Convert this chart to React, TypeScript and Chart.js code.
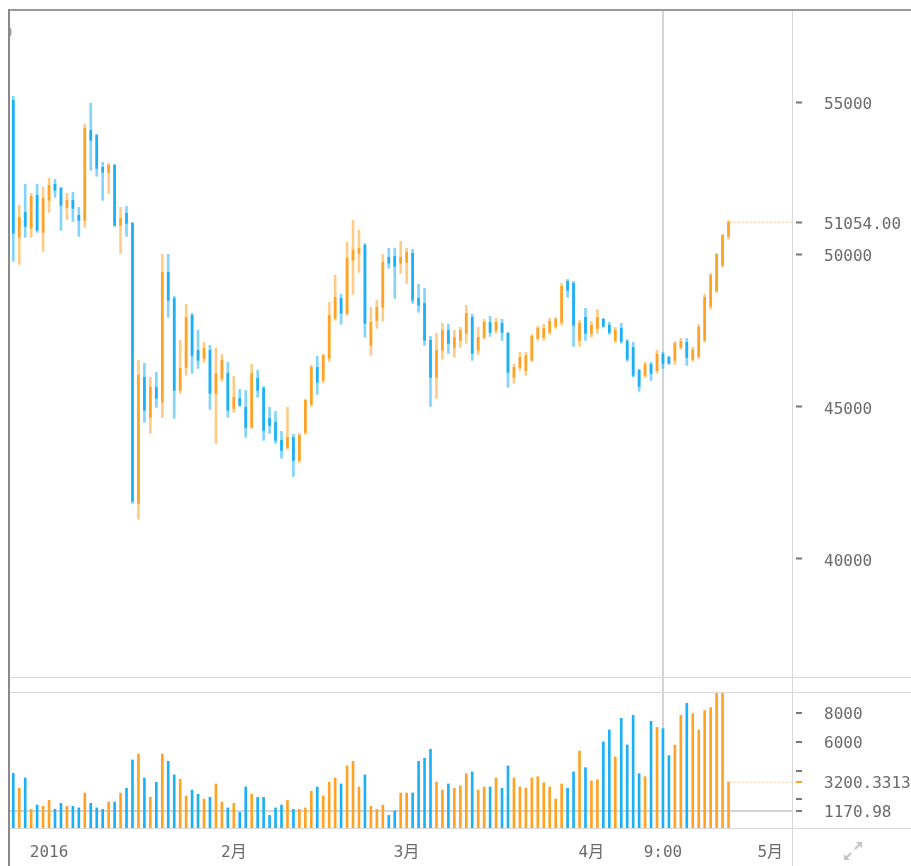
import React, { useEffect, useRef } from "react";
import { Chart, registerables } from "chart.js";

Chart.register(...registerables);

// ---- data (bar index 0 = 2015-12-26, one bar per day) ----
const opens = [
  55056, 50558, 51379, 50854, 51937, 50722, 51773, 52298, 52167, 51543,
  51773, 51280, 51116, 54071, 53907, 52856, 52692, 52922, 50952, 51346,
  51018, 41825, 45962, 44649, 45634, 45141, 49409, 48555, 45535, 46290,
  47997, 46848, 46586, 46848, 45437, 45929, 46093, 44944, 45272, 44977,
  44320, 45929, 45601, 44616, 44485, 43894, 43664, 43992, 43237, 44156,
  45076, 46290, 45863, 46586, 47899, 48555, 48063, 49803, 50033, 50295,
  47012, 47833, 48260, 49902, 49934, 49705, 49737, 50033, 48555, 48391,
  47177, 45962, 46848, 47505, 46947, 47177, 47406, 47932, 46848, 47275,
  47767, 47505, 47735, 47406, 45962, 46290, 46192, 46520, 47242, 47275,
  47439, 47636, 47767, 49114, 49048, 47177, 47932, 47406, 47571, 47866,
  47669, 47177, 47571, 47144, 46947, 46192, 46028, 46389, 46192, 46717,
  46619, 46520, 46947, 47111, 46553, 46651, 47177, 48293, 48785, 49639,
  50591,
];
const highs = [
  55187, 51609, 52298, 52003, 52298, 52200, 52495, 52462, 52200, 52003,
  52035, 51543, 54268, 54957, 53940, 53020, 52988, 52955, 51543, 51576,
  51051, 46520, 46422, 45962, 46126, 50000, 50000, 48621, 47177, 48358,
  48063, 47505, 47111, 47012, 46914, 46717, 46454, 45995, 45568, 45535,
  46389, 46192, 45667, 44977, 44846, 44189, 44977, 44091, 44123, 45240,
  46356, 46651, 46717, 48424, 49311, 48687, 50394, 51116, 50788, 50361,
  48260, 48490, 50000, 50197, 50197, 50427, 50197, 50164, 49015, 48884,
  47308, 47406, 47735, 47702, 47505, 47603, 48326, 48030, 47603, 47866,
  47965, 47899, 47866, 47439, 46389, 46783, 46783, 47374, 47636, 47702,
  47899, 47932, 49048, 49179, 49114, 47833, 48227, 47800, 48194, 47899,
  47767, 47603, 47735, 47209, 47111, 46225, 46454, 46454, 46848, 46783,
  46651, 47144, 47242, 47242, 46947, 47702, 48687, 49376, 50033, 50657,
  51116,
];
const lows = [
  49770, 49672, 50558, 50558, 50722, 50098, 51379, 51871, 50788, 51149,
  51083, 50591, 50886, 52758, 52561, 51773, 52003, 50919, 50033, 50591,
  41825, 41300, 44485, 44123, 44977, 44649, 47932, 44616, 45437, 46028,
  46093, 46257, 46454, 44911, 43795, 45831, 44649, 44813, 45010, 43992,
  44287, 45305, 43894, 44123, 43795, 43303, 43598, 42712, 43171, 44091,
  45010, 45404, 45798, 46487, 47833, 47702, 47997, 48687, 49409, 47275,
  46684, 47571, 47800, 49540, 48555, 49376, 49048, 48391, 48096, 47012,
  45010, 45272, 46553, 46750, 46619, 46947, 47078, 46520, 46717, 47209,
  47308, 47406, 47177, 45634, 45765, 46192, 46028, 46487, 47177, 47177,
  47374, 47571, 47669, 48588, 46980, 46980, 47177, 47275, 47406, 47603,
  47374, 47111, 47078, 46487, 45962, 45502, 45962, 45863, 46093, 46257,
  46389, 46389, 46881, 46356, 46487, 46586, 47111, 48194, 48752, 49573,
  50492,
];
const closes = [
  50689, 51215, 50919, 51904, 50788, 51838, 52265, 52101, 51609, 51773,
  51510, 51116, 54137, 53743, 52823, 52692, 52922, 50952, 51182, 51018,
  41891, 46028, 44879, 45634, 45272, 49409, 48490, 45535, 46257, 47932,
  46684, 46520, 46914, 45437, 46093, 46520, 44879, 45305, 45043, 44320,
  46093, 45535, 44222, 44386, 43894, 43566, 43992, 43237, 44058, 45207,
  46290, 45798, 46684, 47997, 48588, 48063, 49869, 50131, 50197, 47735,
  47767, 48260, 49737, 49705, 49606, 49902, 50066, 48490, 48326, 47177,
  45962, 46848, 47505, 47078, 47275, 47505, 48063, 46750, 47275, 47767,
  47439, 47767, 47439, 46126, 46290, 46619, 46684, 47308, 47571, 47571,
  47800, 47866, 48949, 48818, 47669, 47735, 47406, 47669, 47932, 47636,
  47439, 47505, 47144, 46553, 46028, 45667, 46389, 46093, 46717, 46422,
  46422, 47078, 47144, 46619, 46848, 47603, 48588, 49311, 50000, 50624,
  51054,
];
const volumes = [
  3810, 2770, 3490, 1300, 1600, 1510, 1930, 1300, 1720, 1510,
  1510, 1400, 2440, 1720, 1400, 1300, 1810, 1810, 2440, 2770,
  4750, 5160, 3490, 2140, 3190, 5160, 4650, 3700, 3400, 2230,
  2650, 2350, 2020, 2140, 3070, 1810, 1400, 1720, 1090, 2860,
  2350, 2140, 2140, 880, 1400, 1600, 1930, 1300, 1300, 1400,
  2560, 2860, 2230, 3190, 3490, 3070, 4330, 4650, 2860, 3700,
  1510, 1300, 1600, 880, 1190, 2440, 2440, 2440, 4650, 4860,
  5490, 3190, 2650, 3070, 2770, 2950, 3790, 3910, 2650, 2860,
  2860, 3490, 2770, 4330, 3490, 2860, 2770, 3490, 3580, 3160,
  2860, 2020, 3070, 2770, 3910, 5370, 4210, 3280, 3370, 6000,
  6840, 4950, 7650, 5790, 7860, 3790, 3580, 7440, 7020, 6930,
  5050, 5790, 7860, 8700, 7980, 6840, 8190, 8400, 9480, 9390,
  3200.3313,
];

const xTickPositions = [6, 37, 66, 97, 109, 127];
const xTickLabels = ["2016", "2月", "3月", "4月", "9:00", "5月"];
const priceTicks = [40000, 45000, 50000, 55000];
const volumeTicks = [2000, 4000, 6000, 8000];
const volumeUnlabeled = [2000, 4000];
const crosshairIndex = 109;
const crosshairVolume = 1170.98;

// ---- styling ----
const UP = "rgb(255,163,38)";
const UP_WICK = "rgba(255,163,38,0.55)";
const DOWN = "rgb(30,176,245)";
const DOWN_WICK = "rgba(30,176,245,0.55)";
const TEXT = "#6a6a6a";
const FONT = "'DejaVu Sans Mono', 'Noto Sans CJK JP', monospace";
const X_MIN = -0.55;
const X_MAX = 130.65;
const PRICE_MIN = 36094;
const PRICE_MAX = 58020;
const VOL_MAX = 10464;

const noPad = (s: any) => {
  s.paddingTop = 0;
  s.paddingBottom = 0;
  s.paddingLeft = 0;
  s.paddingRight = 0;
};

export default function App() {
  const mainRef = useRef<HTMLCanvasElement>(null);
  const volRef = useRef<HTMLCanvasElement>(null);

  useEffect(() => {
    const n = closes.length;
    const last = n - 1;
    const up = closes.map((c, i) => c >= opens[i]);
    const wickData = highs.map((h, i) => ({ x: i, y: [lows[i], h] }));
    const bodyData = closes.map((c, i) => ({ x: i, y: [Math.min(opens[i], c), Math.max(opens[i], c)] }));
    const volData = volumes.map((v, i) => ({ x: i, y: v }));
    const lastClose = closes[last];
    const lastVol = volumes[last];

    const xCommon = (withLabels: boolean) => ({
      type: "linear" as const,
      min: X_MIN,
      max: X_MAX,
      offset: false,
      afterBuildTicks: (s: any) => {
        s.ticks = withLabels
          ? xTickPositions.map((v) => ({ value: v }))
          : [{ value: crosshairIndex }];
      },
      afterFit: (s: any) => {
        s.height = withLabels ? 38 : 0;
        noPad(s);
      },
      ticks: {
        display: withLabels,
        autoSkip: false,
        maxRotation: 0,
        padding: 15,
        color: TEXT,
        font: { family: FONT, size: 16 },
        callback: (v: any) => {
          const k = xTickPositions.indexOf(v);
          return k >= 0 ? xTickLabels[k] : "";
        },
      },
      grid: {
        offset: false,
        drawTicks: false,
        lineWidth: 2,
        color: (ctx: any) => (ctx.tick && ctx.tick.value === crosshairIndex ? "#d4d4d4" : "rgba(0,0,0,0)"),
      },
      border: { display: false },
    });

    const main = new Chart(mainRef.current!, {
      type: "bar",
      data: {
        datasets: [
          {
            type: "bar",
            data: wickData as any,
            backgroundColor: up.map((u) => (u ? UP_WICK : DOWN_WICK)),
            barThickness: 2,
            grouped: false,
            order: 2,
          },
          {
            type: "bar",
            data: bodyData as any,
            backgroundColor: up.map((u) => (u ? UP : DOWN)),
            barThickness: 2,
            grouped: false,
            order: 1,
          },
          {
            type: "line",
            data: [
              { x: last + 0.3, y: lastClose },
              { x: X_MAX, y: lastClose },
            ],
            borderColor: "rgba(255,163,38,0.6)",
            borderWidth: 1,
            borderDash: [2, 2],
            pointRadius: 0,
            order: 0,
          } as any,
        ],
      },
      options: {
        animation: false,
        responsive: false,
        maintainAspectRatio: false,
        layout: { padding: { left: 10, top: 0, right: 0, bottom: 0 } },
        plugins: { legend: { display: false }, tooltip: { enabled: false } },
        scales: {
          x: xCommon(false) as any,
          y: {
            type: "linear",
            position: "right",
            min: PRICE_MIN,
            max: PRICE_MAX,
            afterBuildTicks: (s: any) => {
              s.ticks = [...priceTicks, lastClose].map((v) => ({ value: v }));
            },
            afterFit: (s: any) => {
              s.width = 119;
              noPad(s);
            },
            ticks: {
              autoSkip: false,
              padding: 20,
              labelOffset: 3,
              color: TEXT,
              font: { family: FONT, size: 16 },
              callback: (v: any) => (v === lastClose ? Number(v).toFixed(2) : String(v)),
            },
            grid: {
              drawOnChartArea: false,
              tickLength: 12,
              tickWidth: 2,
              tickColor: "#777",
              tickBorderDash: [0, 4, 6, 100],
            },
            border: { display: false },
          },
        },
      },
    });

    const vol = new Chart(volRef.current!, {
      type: "bar",
      data: {
        datasets: [
          {
            type: "bar",
            data: volData as any,
            backgroundColor: up.map((u) => (u ? UP : DOWN)),
            barThickness: 2,
            order: 1,
          },
          {
            type: "line",
            data: [
              { x: last + 0.3, y: lastVol },
              { x: X_MAX, y: lastVol },
            ],
            borderColor: "rgba(255,163,38,0.6)",
            borderWidth: 1,
            borderDash: [2, 2],
            pointRadius: 0,
            order: 0,
          } as any,
        ],
      },
      options: {
        animation: false,
        responsive: false,
        maintainAspectRatio: false,
        layout: { padding: { left: 10, top: 0, right: 0, bottom: 0 } },
        plugins: { legend: { display: false }, tooltip: { enabled: false } },
        scales: {
          x: xCommon(true) as any,
          y: {
            type: "linear",
            position: "right",
            min: 0,
            max: VOL_MAX,
            afterBuildTicks: (s: any) => {
              s.ticks = [crosshairVolume, ...volumeTicks, lastVol]
                .sort((a, b) => a - b)
                .map((v) => ({ value: v }));
            },
            afterFit: (s: any) => {
              s.width = 119;
              noPad(s);
            },
            ticks: {
              autoSkip: false,
              padding: 20,
              labelOffset: 2,
              color: TEXT,
              font: { family: FONT, size: 16 },
              callback: (v: any) => {
                if (volumeUnlabeled.includes(v)) return "";
                if (v === crosshairVolume) return v.toFixed(2);
                return String(v);
              },
            },
            grid: {
              tickLength: 12,
              tickWidth: 2,
              lineWidth: 2,
              color: (ctx: any) => (ctx.tick && ctx.tick.value === crosshairVolume ? "#d4d4d4" : "rgba(0,0,0,0)"),
              tickColor: (ctx: any) => (ctx.tick && ctx.tick.value === lastVol ? UP : "#777"),
              tickBorderDash: [0, 4, 6, 100],
            },
            border: { display: false },
          },
        },
      },
    });

    return () => {
      main.destroy();
      vol.destroy();
    };
  }, []);

  const line = (style: React.CSSProperties) => (
    <div style={{ position: "absolute", ...style }} />
  );

  return (
    <div
      style={{
        position: "fixed",
        left: 0,
        top: 0,
        width: 911,
        height: 866,
        background: "#fff",
        overflow: "hidden",
      }}
    >
      <canvas
        ref={mainRef}
        width={911}
        height={668}
        style={{ position: "absolute", left: 0, top: 10, width: 911, height: 668 }}
      />
      <canvas
        ref={volRef}
        width={911}
        height={188}
        style={{ position: "absolute", left: 0, top: 678, width: 911, height: 188 }}
      />
      <div
        style={{
          position: "absolute",
          left: 10,
          top: 24,
          width: 5,
          height: 18,
          overflow: "hidden",
        }}
      >
        <span
          style={{
            position: "absolute",
            left: -6,
            top: 0,
            fontFamily: FONT,
            fontSize: 14,
            color: "#9a9a9a",
          }}
        >
          0
        </span>
      </div>
      {line({ left: 8, top: 9, width: 903, height: 2, background: "#9a9a9a" })}
      {line({ left: 8, top: 9, width: 2, height: 857, background: "#8a8a8a" })}
      {line({ left: 792, top: 11, width: 1, height: 855, background: "#d8d8d8" })}
      {line({ left: 10, top: 677, width: 901, height: 1, background: "#d8d8d8" })}
      {line({ left: 10, top: 692, width: 901, height: 1, background: "#d8d8d8" })}
      {line({ left: 10, top: 828, width: 901, height: 1, background: "#d8d8d8" })}
      <svg
        width={24}
        height={24}
        style={{ position: "absolute", left: 841, top: 839 }}
        viewBox="0 0 24 24"
      >
        <g fill="#c4c4c4" stroke="#c4c4c4" strokeWidth={2}>
          <line x1={14} y1={10} x2={19} y2={5} />
          <polygon points="21,3 21,9 15,3" stroke="none" />
          <line x1={10} y1={14} x2={5} y2={19} />
          <polygon points="3,21 3,15 9,21" stroke="none" />
        </g>
      </svg>
    </div>
  );
}
